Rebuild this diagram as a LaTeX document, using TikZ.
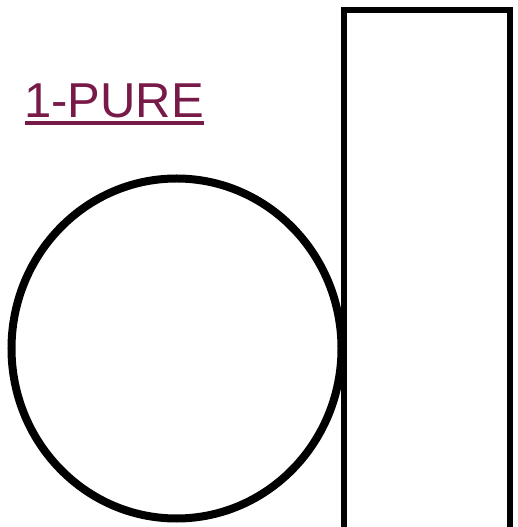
\documentclass[tikz,border=0pt]{standalone}
\usepackage{fontspec}
\setmainfont{Liberation Sans}
\usepackage{xcolor}
\definecolor{purelabel}{RGB}{120,26,72}

\begin{document}
\begin{tikzpicture}[x=1pt,y=1pt]
    \useasboundingbox (0,0) rectangle (518,527);
    \clip (0,0) rectangle (518,527);

\draw[line width=8pt] (176.5,178.5) ellipse [x radius=165, y radius=170];
\draw[line width=6pt] (344,-20) rectangle (510,517);

    \node [anchor=base west, inner sep=0pt, text=purelabel,
        font=\fontsize{49}{59}\selectfont] (T1) at (24,409) {1-PURE};
    \draw [purelabel, line width=4pt] ([xshift=1pt,yshift=-5pt]T1.base west)--([yshift=-5pt]T1.base east);
\end{tikzpicture}
\end{document}
